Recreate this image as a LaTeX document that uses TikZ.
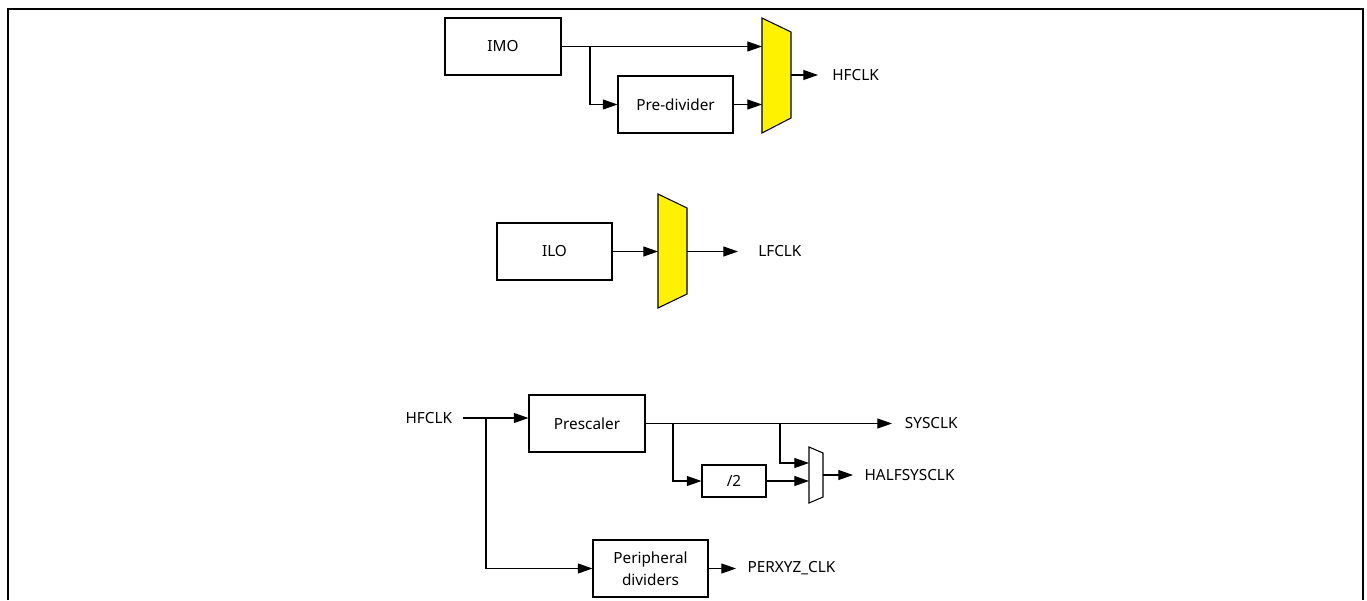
\documentclass[tikz,border=0pt]{standalone}
\usepackage{fontspec}
\setmainfont{Noto Sans}
\usetikzlibrary{arrows.meta}
\begin{document}
\begin{tikzpicture}[x=0.75pt,y=-0.75pt,
  txt/.style={font=\fontsize{11.5}{16.5}\selectfont},
  blk/.style={draw, line width=0.8pt, inner sep=0pt, align=center, txt},
  wire/.style={line width=0.8pt},
  sig/.style={wire, -{Triangle[length=11pt,width=7.5pt]}},
  lbl/.style={anchor=west, inner ysep=0pt, inner xsep=8.5pt, txt},
  muxshape/.style={draw, line width=0.8pt, line join=miter},
  frame/.style={line width=2pt}]
\useasboundingbox (0,0) rectangle (1367,600);
\draw[frame] (8,600) -- (8,9) -- (1363,9) -- (1363,600);

% ---------- HFCLK selection ----------
\node[blk, minimum width=87pt, minimum height=42.75pt] (imo) at (503,46.5) {IMO};
\node[blk, minimum width=86.25pt, minimum height=42.75pt] (pre) at (675.5,104.5) {Pre-divider};
\draw[muxshape, fill=yellow] (762,18) -- (791,32) -- (791,118) -- (762,133) -- cycle;
\coordinate (m1a) at (762,46.5);
\coordinate (m1b) at (762,104.5);
\coordinate (m1o) at (791,75);
\coordinate (j1) at (590,46.5);
\node[lbl, inner xsep=10.5pt] (hfclk) at (818,75) {HFCLK};
\draw[sig] (imo.east) -- (m1a);
\draw[sig] (j1) |- (pre.west);
\draw[sig] (pre.east) -- (m1b);
\draw[sig] (m1o) -- (hfclk.west);

% ---------- LFCLK selection ----------
\node[blk, minimum width=86.25pt, minimum height=42.75pt] (ilo) at (554.5,251.5) {ILO};
\draw[muxshape, fill=yellow] (658,194) -- (687,208) -- (687,294) -- (658,308) -- cycle;
\coordinate (m2a) at (658,251.5);
\coordinate (m2o) at (687,251.5);
\node[lbl, inner xsep=15pt] (lfclk) at (738,251.5) {LFCLK};
\draw[sig] (ilo.east) -- (m2a);
\draw[sig] (m2o) -- (lfclk.west);

% ---------- System clocks ----------
\node[anchor=east, inner ysep=0pt, inner xsep=8pt, txt] (hfin) at (463,418) {HFCLK};
\node[blk, minimum width=87pt, minimum height=42.75pt] (presc) at (587,423.5) {Prescaler};
\node[blk, minimum width=48pt, minimum height=24pt] (div2) at (734,481) {/2};
\node[blk, minimum width=86.25pt, minimum height=42.75pt] (peri) at (650.5,568.5) {Peripheral\\dividers};
\draw[muxshape, fill=white] (809,447) -- (823,453) -- (823,497) -- (809,503) -- cycle;
\coordinate (m3a) at (809,463);
\coordinate (m3b) at (809,481);
\coordinate (m3o) at (823,475);
\coordinate (j2) at (486,418);
\coordinate (j3) at (673,423.5);
\coordinate (j4) at (780,423.5);
\node[lbl, inner xsep=9.5pt] (sys) at (892,423.5) {SYSCLK};
\node[lbl] (half) at (853,475) {HALFSYSCLK};
\node[lbl] (perx) at (736,568.5) {PERXYZ\_CLK};

\draw[sig] (hfin.east) -- (presc.west |- hfin.east);
\draw[sig] (j2) |- (peri.west);
\draw[sig] (presc.east) -- (sys.west);
\draw[sig] (j3) |- (div2.west);
\draw[sig] (j4) |- (m3a);
\draw[sig] (div2.east) -- (m3b);
\draw[sig] (m3o) -- (half.west);
\draw[sig] (peri.east) -- (perx.west);
\end{tikzpicture}
\end{document}
